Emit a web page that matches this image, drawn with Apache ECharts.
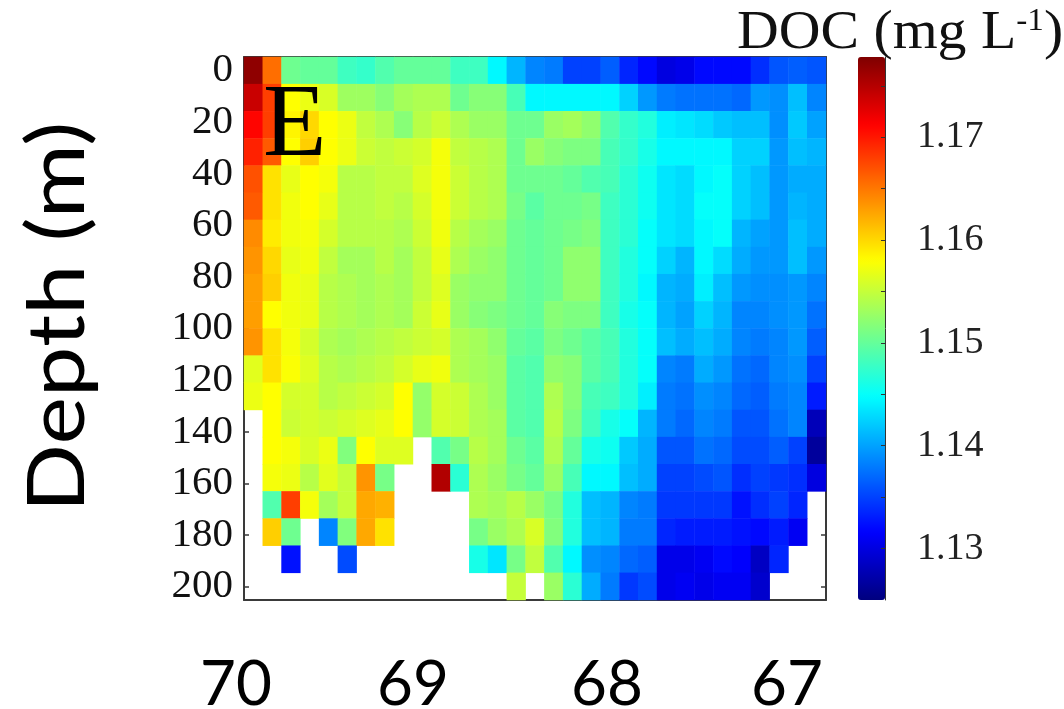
<!DOCTYPE html>
<html><head><meta charset="utf-8">
<style>html,body{margin:0;padding:0;background:#fff}#c{width:1064px;height:709px}</style>
<script src="https://cdn.jsdelivr.net/npm/echarts@6/dist/echarts.min.js"></script>
</head><body><div id="c"></div>
<script>
const _ = null;
const row00 = [1.177,1.1655,1.1505,1.150,1.150,1.148,1.1475,1.149,1.150,1.150,1.150,1.148,1.148,1.1445,1.141,1.1385,1.138,1.135,1.135,1.1365,1.1335,1.132,1.130,1.1305,1.132,1.132,1.132,1.134,1.136,1.1365,1.136];
const row01 = [1.174,1.168,1.158,1.157,1.156,1.153,1.153,1.1518,1.1533,1.1538,1.1538,1.1505,1.1518,1.1518,1.1485,1.1445,1.1445,1.1445,1.1445,1.1445,1.1425,1.1395,1.138,1.1375,1.1375,1.1375,1.137,1.1395,1.139,1.1415,1.1385];
const row02 = [1.171,1.168,1.1585,1.160,1.158,1.157,1.1548,1.1538,1.1518,1.1543,1.1553,1.1538,1.1528,1.1528,1.1505,1.1505,1.1528,1.1533,1.1523,1.149,1.1475,1.1465,1.144,1.1435,1.143,1.142,1.1415,1.1415,1.139,1.142,1.140];
const row03 = [1.1695,1.1665,1.158,1.1605,1.158,1.157,1.1553,1.1548,1.1553,1.1558,1.1575,1.1548,1.1543,1.1538,1.1505,1.1528,1.1518,1.1513,1.1513,1.1485,1.1475,1.146,1.1445,1.1445,1.1445,1.1445,1.1425,1.1425,1.1395,1.1415,1.141];
const row04 = [1.167,1.1595,1.1568,1.158,1.1575,1.1543,1.1543,1.1548,1.1548,1.1563,1.1575,1.1553,1.1543,1.1538,1.1505,1.1505,1.1505,1.150,1.149,1.1485,1.147,1.1455,1.1435,1.143,1.1445,1.145,1.1425,1.1415,1.1395,1.1405,1.1405];
const row05 = [1.1665,1.1595,1.1573,1.158,1.1568,1.1543,1.1543,1.1548,1.1543,1.1558,1.1575,1.1553,1.1543,1.1538,1.151,1.1495,1.1505,1.1505,1.151,1.148,1.147,1.1455,1.1435,1.143,1.145,1.145,1.1425,1.1415,1.1395,1.141,1.1405];
const row06 = [1.164,1.159,1.1573,1.1575,1.1558,1.1543,1.1543,1.1543,1.1538,1.1553,1.1573,1.1543,1.1533,1.1528,1.1505,1.150,1.1505,1.151,1.1515,1.148,1.147,1.145,1.1435,1.143,1.1445,1.145,1.141,1.140,1.1395,1.1415,1.1405];
const row07 = [1.1635,1.160,1.1568,1.1573,1.1548,1.1533,1.1533,1.1543,1.1533,1.1548,1.1568,1.1538,1.1528,1.1523,1.1505,1.150,1.1505,1.1523,1.1523,1.148,1.1465,1.145,1.1425,1.141,1.1445,1.143,1.1405,1.1395,1.1395,1.1415,1.1395];
const row08 = [1.163,1.1605,1.1573,1.1568,1.1543,1.1538,1.1533,1.1538,1.1533,1.1548,1.1563,1.1528,1.1523,1.1523,1.1505,1.150,1.1505,1.1523,1.1523,1.148,1.1465,1.1445,1.141,1.1405,1.144,1.1415,1.1395,1.139,1.139,1.1395,1.1385];
const row09 = [1.163,1.158,1.1573,1.1568,1.1543,1.1538,1.1533,1.1538,1.1533,1.1553,1.1568,1.1528,1.1518,1.1513,1.1505,1.150,1.1518,1.1513,1.1513,1.148,1.146,1.145,1.141,1.140,1.1425,1.141,1.1385,1.1385,1.139,1.1395,1.1375];
const row10 = [1.1635,1.1595,1.1575,1.1558,1.1538,1.1533,1.1538,1.1543,1.1548,1.1553,1.1558,1.1538,1.1533,1.1523,1.150,1.1495,1.1513,1.1505,1.1495,1.1485,1.1465,1.145,1.1415,1.1405,1.1415,1.1405,1.1385,1.138,1.1385,1.1395,1.1365];
const row11 = [1.1565,1.1595,1.1578,1.1563,1.1543,1.1538,1.1543,1.1548,1.1558,1.1568,1.1573,1.1538,1.1533,1.1528,1.1495,1.149,1.1523,1.1518,1.1495,1.1485,1.1465,1.145,1.1385,1.138,1.1405,1.1395,1.1375,1.137,1.1385,1.139,1.135];
const row12 = [1.157,1.158,1.1558,1.1558,1.1543,1.1548,1.1553,1.1558,1.158,1.1525,1.1558,1.1553,1.1538,1.1528,1.1495,1.149,1.1538,1.1518,1.1485,1.148,1.1465,1.144,1.138,1.1375,1.139,1.1385,1.137,1.1365,1.138,1.1385,1.133];
const row13 = [_,1.158,1.1553,1.1558,1.1553,1.1558,1.1563,1.1568,1.158,1.1525,1.1558,1.1553,1.1538,1.1533,1.1495,1.149,1.1543,1.1513,1.148,1.146,1.145,1.141,1.138,1.137,1.1385,1.138,1.136,1.136,1.1375,1.1385,1.128];
const row14 = [_,1.158,1.1575,1.156,1.157,1.1515,1.158,1.1563,1.1563,_,1.149,1.151,1.1543,1.1533,1.1505,1.1495,1.1538,1.150,1.146,1.1455,1.142,1.1405,1.136,1.136,1.1375,1.137,1.1355,1.1355,1.1365,1.135,1.1265];
const row15 = [_,1.1575,1.157,1.1543,1.1565,1.155,1.1635,1.151,_,_,1.1752,1.147,1.1538,1.1528,1.151,1.150,1.1528,1.1485,1.1445,1.1445,1.1415,1.1405,1.135,1.135,1.1355,1.136,1.134,1.135,1.1345,1.134,1.130];
const row16 = [_,1.149,1.168,1.1575,1.1533,1.155,1.1625,1.162,_,_,_,_,1.1538,1.1533,1.1543,1.1528,1.151,1.1465,1.1415,1.141,1.1385,1.138,1.1345,1.1345,1.1345,1.1345,1.1325,1.134,1.135,1.1335,_];
const row17 = [_,1.1605,1.1505,_,1.1385,1.1515,1.1625,1.1595,_,_,_,_,1.151,1.1528,1.1538,1.156,1.1515,1.1465,1.1415,1.141,1.138,1.138,1.1335,1.133,1.133,1.133,1.1325,1.132,1.133,1.131,_];
const row18 = [_,_,1.1325,_,_,1.1355,_,_,_,_,_,_,1.146,1.1435,1.151,1.1548,1.149,1.1445,1.139,1.1385,1.137,1.1365,1.1305,1.1305,1.131,1.132,1.1315,1.1285,1.1335,_,_];
const row19 = [_,_,_,_,_,_,_,_,_,_,_,_,_,_,1.155,_,1.1528,1.147,1.1405,1.138,1.1345,1.1355,1.1305,1.131,1.1305,1.131,1.131,1.129,_,_,_];
const rows = [row00,row01,row02,row03,row04,row05,row06,row07,row08,row09,row10,row11,row12,row13,row14,row15,row16,row17,row18,row19];

const depthTicks = [0,20,40,60,80,100,120,140,160,180,200];
const lonTicks = [69.5,69,68.5,68,67.5,67];
const lonLabels = ['70','69','68','67'];
const colorLabelTicks = [1.13,1.14,1.15,1.16,1.17];
const colorMinorTicks = [1.13,1.135,1.14,1.145,1.15,1.155,1.16,1.165,1.17,1.175];
const colorMin = 1.125, colorMax = 1.1778;
const jet = ['#00007f','#0000ff','#007fff','#00ffff','#7fff7f','#ffff00','#ff7f00','#ff0000','#7f0000'];

const cells = [];
rows.forEach((r,i)=>r.forEach((v,j)=>{ if(v!==null) cells.push([j,i,v]); }));
const columns = rows[0].map((_v,j)=>j), rowIdx = rows.map((_v,i)=>i);

const serif = '"Liberation Serif","Times New Roman",serif';
const frame = {show:true,onZero:false,lineStyle:{color:'#3a3a3a',width:2}};
const lonAxis = (position)=>({type:'value',gridIndex:0,position,inverse:true,min:69.848,max:66.648,
  splitLine:{show:false},axisLine:frame,axisLabel:{show:false},
  axisTick:{show:true,inside:true,length:4,customValues:lonTicks,lineStyle:{color:'#3a3a3a',width:1.5}}});
const depthAxis = (position,labels)=>({type:'value',gridIndex:0,position,inverse:true,min:-5.3,max:205.2,
  splitLine:{show:false},axisLine:frame,
  axisLabel:{show:labels,customValues:depthTicks,fontFamily:serif,fontSize:41,color:'#111',margin:11,padding:[4,0,0,0]},
  axisTick:{show:true,inside:true,length:5,customValues:depthTicks,lineStyle:{color:'#3a3a3a',width:1.5}}});

const chart = echarts.init(document.getElementById('c'),null,{renderer:'canvas'});
chart.setOption({
  animation:false,backgroundColor:'#fff',
  grid:[{left:244,top:57,width:582,height:543},{left:858,top:57,width:27,height:543}],
  xAxis:[
    {type:'category',gridIndex:0,data:columns,show:false},
    lonAxis('bottom'),lonAxis('top'),
    {type:'value',gridIndex:1,show:false,min:0,max:1}
  ],
  yAxis:[
    {type:'category',gridIndex:0,data:rowIdx,inverse:true,show:false},
    depthAxis('left',true),depthAxis('right',false),
    {type:'value',gridIndex:1,position:'right',min:colorMin,max:colorMax,z:10,
     splitLine:{show:false},
     axisLine:{show:true,onZero:false,lineStyle:{color:'#333',width:1}},
     axisTick:{show:true,inside:true,length:4,customValues:colorMinorTicks,lineStyle:{color:'#333'}},
     axisLabel:{customValues:colorLabelTicks,formatter:v=>v.toFixed(2),fontFamily:serif,fontSize:38,color:'#222',margin:32}}
  ],
  visualMap:{type:'continuous',seriesIndex:0,min:colorMin,max:colorMax,left:858,top:57,padding:0,
    itemWidth:27,itemHeight:543,calculable:false,realtime:false,hoverLink:false,text:null,showLabel:false,
    inRange:{color:jet}},
  series:[{type:'heatmap',xAxisIndex:0,yAxisIndex:0,data:cells,progressive:0,emphasis:{disabled:true},itemStyle:{borderWidth:0}}],
  graphic:[
    {type:'text',left:263,top:76,z:20,style:{text:'E',font:'104px '+serif,fill:'#000'}},
    {type:'text',x:737,y:6,scaleX:1.07,z:20,style:{
      text:'DOC (mg L{s|-1})',font:'54px '+serif,fill:'#111',
      rich:{s:{font:'31px '+serif,fill:'#111',verticalAlign:'top',padding:[0,0,24,0]}}}},
    {type:'text',x:58,y:317,rotation:Math.PI/2,scaleX:1.125,z:20,style:{text:'Depth (m)',font:'80px Lato,"Open Sans",sans-serif',fill:'#000',align:'center',verticalAlign:'middle'}},
    ...lonLabels.map((t,i)=>({type:'text',x:[236,413,607,787][i],y:685,z:20,style:{text:t,font:'62px Lato,"Open Sans",sans-serif',fill:'#000',align:'center',verticalAlign:'middle'}}))
  ]
});
</script></body></html>
